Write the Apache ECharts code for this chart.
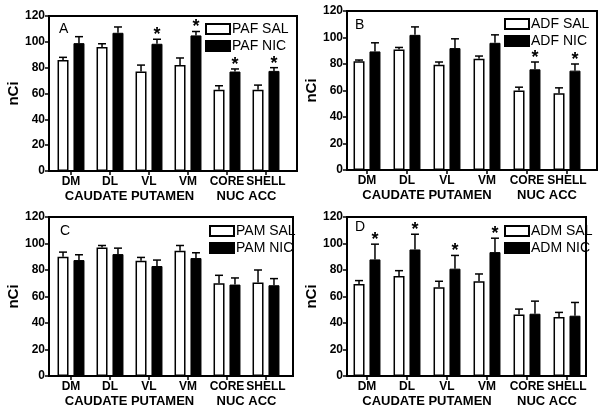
<!DOCTYPE html>
<html><head><meta charset="utf-8">
<script src="https://cdn.jsdelivr.net/npm/echarts@6/dist/echarts.min.js"></script>
<style>html,body{margin:0;padding:0;background:#fff}#c{width:601px;height:413px}</style>
</head><body><div id="c"></div>
<script>
// ---------- data ----------
const categories = ['DM', 'DL', 'VL', 'VM', 'CORE', 'SHELL'];
const groupLabels = ['CAUDATE PUTAMEN', 'NUC ACC'];
const yMin = 0, yMax = 120, yStep = 20;
const panelLetters = ['A', 'B', 'C', 'D'];

const pafNames = ['PAF SAL', 'PAF NIC'];
const pafSal = [86, 96, 77, 82, 63, 63];
const pafSalErr = [2, 2.5, 5, 5.5, 3, 3.5];
const pafNic = [99, 107, 98.5, 105, 77, 77.5];
const pafNicErr = [5, 4.5, 3.5, 3, 2, 2.5];
const pafSig = [0, 0, 1, 1, 1, 1];

const adfNames = ['ADF SAL', 'ADF NIC'];
const adfSal = [82, 91, 79.5, 84, 60, 58];
const adfSalErr = [1, 1.5, 2, 2, 2.5, 4];
const adfNic = [89.5, 102, 92, 96, 76, 75];
const adfNicErr = [6.5, 6, 7, 6, 5.5, 5];
const adfSig = [0, 0, 0, 0, 1, 1];

const pamNames = ['PAM SAL', 'PAM NIC'];
const pamSal = [90, 97, 87, 94.5, 70, 70.5];
const pamSalErr = [3.5, 1.5, 2.5, 4, 6, 9.5];
const pamNic = [87.5, 92, 83, 89, 69, 68.5];
const pamNicErr = [4, 4.5, 4.5, 4, 5, 5];
const pamSig = [0, 0, 0, 0, 0, 0];

const admNames = ['ADM SAL', 'ADM NIC'];
const admSal = [69.5, 75.5, 67, 71.5, 46.5, 44.5];
const admSalErr = [2.5, 4, 4.5, 5.5, 4, 3.5];
const admNic = [88, 95.5, 81, 93.5, 47, 45.5];
const admNicErr = [11.5, 11.5, 10, 10.5, 9.5, 10];
const admSig = [1, 1, 1, 1, 0, 0];

// ---------- layout ----------
const FONT = '"Liberation Sans", Arial, Helvetica, sans-serif';
const BAR_W = 11, GAP_RATIO = 0.45;
const OFF = (BAR_W + BAR_W * GAP_RATIO) / 2;

const panels = [
  {names: pafNames, sal: pafSal, salErr: pafSalErr, nic: pafNic, nicErr: pafNicErr, sig: pafSig,
   axisX: 49, dataL: 51.5, top: 16, bottom: 171, right: 297, band: 39, legL: 205, legT: 22, letX: 59, letY: 22},
  {names: adfNames, sal: adfSal, salErr: adfSalErr, nic: adfNic, nicErr: adfNicErr, sig: adfSig,
   axisX: 347, dataL: 347, top: 11, bottom: 170, right: 597, band: 40, legL: 504, legT: 17, letX: 355, letY: 18},
  {names: pamNames, sal: pamSal, salErr: pamSalErr, nic: pamNic, nicErr: pamNicErr, sig: pamSig,
   axisX: 49, dataL: 51.5, top: 217, bottom: 376, right: 293, band: 39, legL: 209, legT: 224, letX: 60, letY: 224},
  {names: admNames, sal: admSal, salErr: admSalErr, nic: admNic, nicErr: admNicErr, sig: admSig,
   axisX: 347, dataL: 347, top: 217, bottom: 376, right: 586, band: 40, legL: 504, legT: 224, letX: 355, letY: 220}
];

function errRender(offset) {
  return function (params, api) {
    const j = api.value(0), v = api.value(1), e = api.value(2), s = api.value(3);
    const base = api.coord([j, v]);
    const tip = api.coord([j, v + e]);
    const x = base[0] + offset;
    const ch = [
      {type: 'line', shape: {x1: x, y1: base[1], x2: x, y2: tip[1]}, style: {stroke: '#000', lineWidth: 1.5}},
      {type: 'line', shape: {x1: x - 4, y1: tip[1], x2: x + 4, y2: tip[1]}, style: {stroke: '#000', lineWidth: 1.5}}
    ];
    if (s) ch.push({type: 'text', style: {text: '*', x: x, y: tip[1] + 5, align: 'center', verticalAlign: 'bottom',
      font: 'bold 18px ' + FONT, fill: '#000'}});
    return {type: 'group', children: ch};
  };
}

const grid = [], xAxis = [], yAxis = [], series = [], legend = [], graphic = [];
panels.forEach((p, i) => {
  const h = p.bottom - p.top;
  const f = 2 * i, d = 2 * i + 1;
  grid.push({left: p.axisX, top: p.top, width: p.right - p.axisX, height: h, show: true,
    borderColor: '#000', borderWidth: 2, backgroundColor: 'transparent'});
  grid.push({left: p.dataL, top: p.top, width: 6 * p.band, height: h});
  xAxis.push({type: 'value', gridIndex: f, show: false, min: 0, max: 1});
  xAxis.push({type: 'category', gridIndex: d, data: categories,
    axisLine: {show: false}, splitLine: {show: false},
    axisTick: {show: true, alignWithLabel: true, length: 4, lineStyle: {color: '#000', width: 1.5}},
    axisLabel: {color: '#000', fontWeight: 'bold', fontSize: 12, fontFamily: FONT, margin: 5, interval: 0}});
  yAxis.push({type: 'value', gridIndex: f, min: yMin, max: yMax, interval: yStep,
    name: 'nCi', nameLocation: 'middle', nameGap: 28, nameRotate: 90,
    nameTextStyle: {color: '#000', fontWeight: 'bold', fontSize: 15, fontFamily: FONT},
    axisLine: {show: false}, splitLine: {show: false},
    axisTick: {show: true, length: 4, lineStyle: {color: '#000', width: 1.5}},
    axisLabel: {color: '#000', fontWeight: 'bold', fontSize: 12, fontFamily: FONT, margin: 4}});
  yAxis.push({type: 'value', gridIndex: d, min: yMin, max: yMax, interval: yStep, show: false});
  series.push({name: p.names[0], type: 'bar', xAxisIndex: d, yAxisIndex: d, data: p.sal,
    barWidth: BAR_W, barGap: (GAP_RATIO * 100) + '%',
    itemStyle: {color: '#fff', borderColor: '#000', borderWidth: 1.5}});
  series.push({name: p.names[1], type: 'bar', xAxisIndex: d, yAxisIndex: d, data: p.nic,
    barWidth: BAR_W, barGap: (GAP_RATIO * 100) + '%',
    itemStyle: {color: '#000', borderColor: '#000', borderWidth: 1}});
  series.push({type: 'custom', xAxisIndex: d, yAxisIndex: d, renderItem: errRender(-OFF), z: 5,
    encode: {x: 0, y: 1}, data: categories.map((c, j) => [j, p.sal[j], p.salErr[j], 0])});
  series.push({type: 'custom', xAxisIndex: d, yAxisIndex: d, renderItem: errRender(OFF), z: 5,
    encode: {x: 0, y: 1}, data: categories.map((c, j) => [j, p.nic[j], p.nicErr[j], p.sig[j]])});
  legend.push({data: [{name: p.names[0], icon: 'rect'}, {name: p.names[1], icon: 'rect'}],
    orient: 'vertical', left: p.legL, top: p.legT, itemWidth: 24, itemHeight: 10, itemGap: 3,
    padding: 0, selectedMode: false,
    textStyle: {color: '#000', fontSize: 14, fontFamily: FONT, padding: [0, 0, 0, -3]}});
  graphic.push({type: 'text', left: p.letX, top: p.letY,
    style: {text: panelLetters[i], font: '14px ' + FONT, fill: '#000'}});
  const gy = p.bottom + 19;
  graphic.push({type: 'text', x: p.dataL + 2 * p.band, y: gy,
    style: {text: groupLabels[0], font: 'bold 13px ' + FONT, fill: '#000', align: 'center', verticalAlign: 'top'}});
  graphic.push({type: 'text', x: p.dataL + 5 * p.band, y: gy,
    style: {text: groupLabels[1], font: 'bold 13px ' + FONT, fill: '#000', align: 'center', verticalAlign: 'top'}});
});

const chart = echarts.init(document.getElementById('c'), null, {renderer: 'canvas'});
chart.setOption({animation: false, backgroundColor: '#fff', textStyle: {fontFamily: FONT},
  grid, xAxis, yAxis, series, legend, graphic});
</script>
</body></html>
